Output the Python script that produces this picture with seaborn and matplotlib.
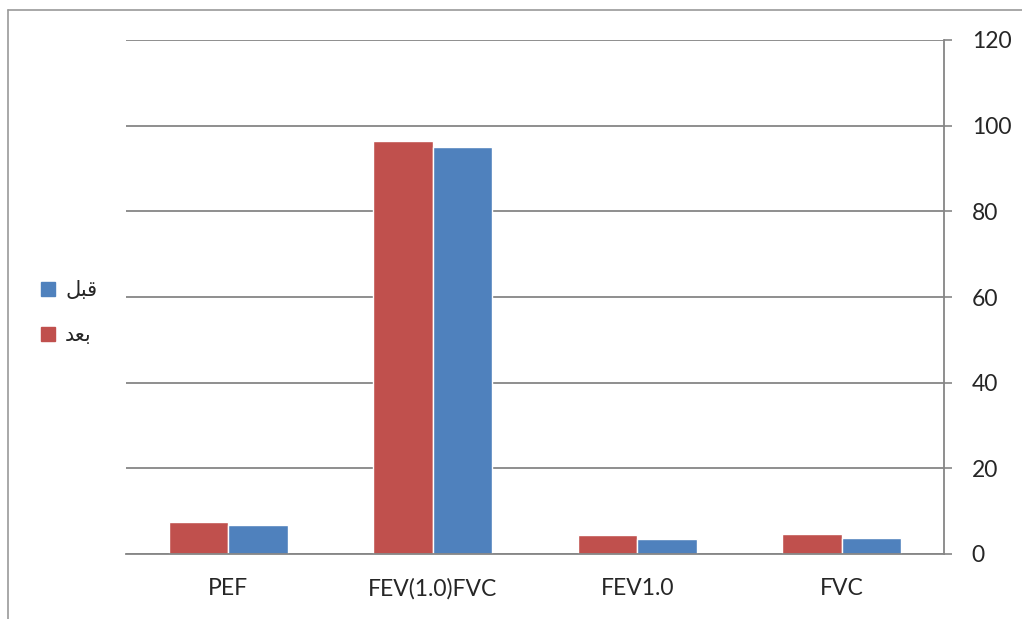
import seaborn as sb
import matplotlib.pyplot as plt
import pandas as pd
import numpy as np
from matplotlib.lines import Line2D
from matplotlib.patches import Patch

categories = ["PEF", "FEV(1.0)FVC", "FEV1.0", "FVC"]
after_vals = [7.5, 96.4, 4.4, 4.6]    # بعد
before_vals = [6.8, 95.0, 3.5, 3.7]   # قبل
series_names = ["بعد", "قبل"]
yticks = [0, 20, 40, 60, 80, 100, 120]

# matplotlib has no arabic shaping, so legend labels use the
# presentation forms in visual order (same words)
shaped = {"قبل": "\uFEDE\uFE92\uFED7", "بعد": "\uFEAA\uFECC\uFE91"}

df = pd.DataFrame({
    "cat": categories * 2,
    "val": after_vals + before_vals,
    "series": [series_names[0]] * 4 + [series_names[1]] * 4,
})

sb.set_style("white")
plt.rcParams['font.family'] = ['Lato', 'DejaVu Sans']

red = "#C0504D"
blue = "#4F81BD"
grid_c = "#868686"

fig = plt.figure(figsize=(10.22, 6.19), dpi=100)
ax = fig.add_axes([126 / 1022, 1 - 554 / 619, 818 / 1022, 514 / 619])

sb.barplot(data=df, x="cat", y="val", hue="series", hue_order=series_names,
           palette=[red, blue], width=0.58, gap=0, saturation=1, ax=ax,
           order=categories, legend=False)

ax.set_ylim(0, 120)
ax.set_xlim(-0.5, 3.5)
ax.set_yticks(yticks)
ax.yaxis.tick_right()
ax.tick_params(axis="y", labelsize=16.5, length=6, color=grid_c, width=1.2, pad=14)
ax.set_xticks(range(4))
ax.set_xticklabels(categories)
ax.tick_params(axis="x", which="major", length=0, labelsize=16.5, pad=17)
ax.set_xticks(np.arange(-0.5, 4, 1), minor=True)
ax.tick_params(axis="x", which="minor", length=9, color=grid_c, width=1.2)
ax.set_xlabel("")
ax.set_ylabel("")
ax.grid(axis="y", color=grid_c, linewidth=1.3)
ax.set_axisbelow(True)
for s in ["left", "top"]:
    ax.spines[s].set_visible(False)
for s in ["right", "bottom"]:
    ax.spines[s].set_color(grid_c)
    ax.spines[s].set_linewidth(1.3)

handles = [Patch(color=blue), Patch(color=red)]
fig.legend(handles, [shaped[series_names[1]], shaped[series_names[0]]],
           loc="center left", bbox_to_anchor=(0.022, 0.495), frameon=False,
           fontsize=15, handlelength=0.65, handleheight=0.65, handletextpad=0.5,
           labelspacing=1.2, prop={"family": ["DejaVu Sans"], "size": 15})

# outer chart border
fig.add_artist(Line2D([8 / 1022, 8 / 1022], [0.0, 1 - 10 / 619], color="#9a9a9a", lw=1.2))
fig.add_artist(Line2D([8 / 1022, 1.0], [1 - 10 / 619, 1 - 10 / 619], color="#9a9a9a", lw=1.2))

fig.savefig("out.png", dpi=100)
